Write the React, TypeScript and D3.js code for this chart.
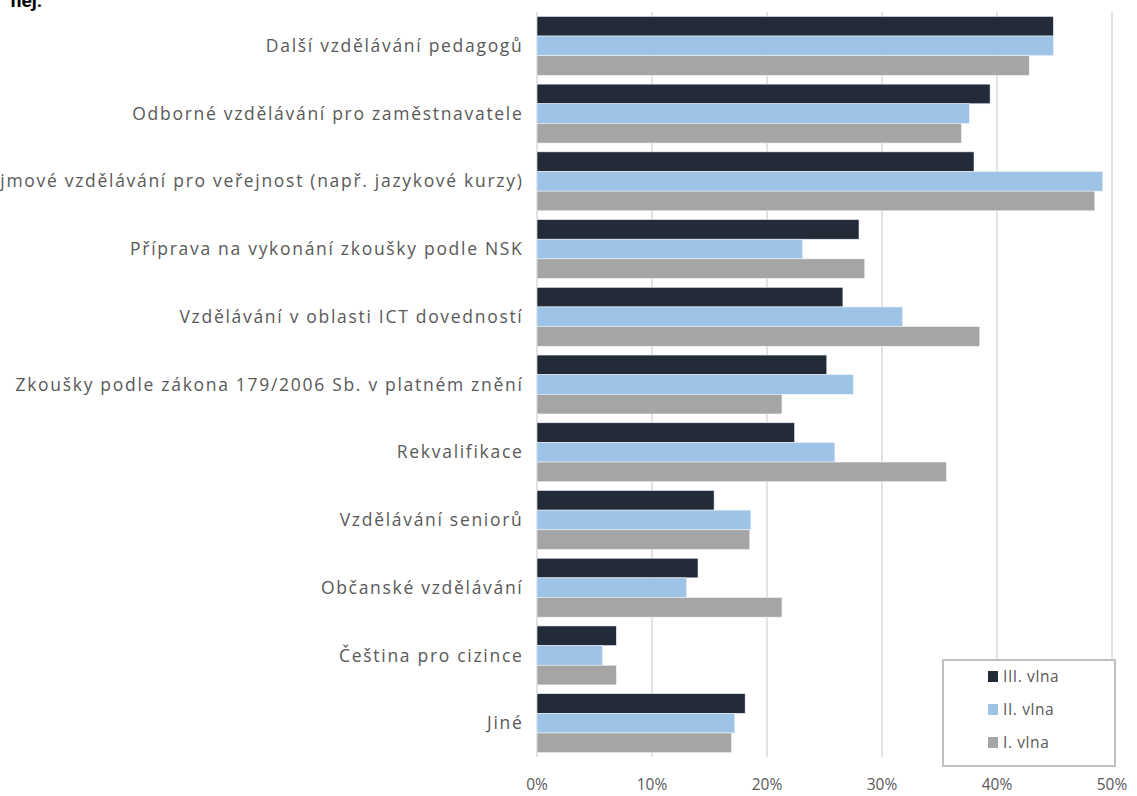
import React from "react";
import * as d3 from "d3";

const categories = [
  "Další vzdělávání pedagogů",
  "Odborné vzdělávání pro zaměstnavatele",
  "Zájmové vzdělávání pro veřejnost (např. jazykové kurzy)",
  "Příprava na vykonání zkoušky podle NSK",
  "Vzdělávání v oblasti ICT dovedností",
  "Zkoušky podle zákona 179/2006 Sb. v platném znění",
  "Rekvalifikace",
  "Vzdělávání seniorů",
  "Občanské vzdělávání",
  "Čeština pro cizince",
  "Jiné",
];

const seriesNames = ["III. vlna", "II. vlna", "I. vlna"];
const wave3 = [44.9, 39.4, 38.0, 28.0, 26.6, 25.2, 22.4, 15.4, 14.0, 6.9, 18.1];
const wave2 = [44.9, 37.6, 49.2, 23.1, 31.8, 27.5, 25.9, 18.6, 13.0, 5.7, 17.2];
const wave1 = [42.8, 36.9, 48.5, 28.5, 38.5, 21.3, 35.6, 18.5, 21.3, 6.9, 16.9];
const seriesValues = [wave3, wave2, wave1];
const seriesColors = ["#232b38", "#9dc3e6", "#a5a5a5"];
const xTicks = [0, 10, 20, 30, 40, 50];

const W = 1137;
const H = 796;
const left = 537;
const right = 1112;
const top = 12;
const bottom = 757;

export default function App() {
  const x = d3.scaleLinear().domain([0, 50]).range([left, right]);
  const y = d3
    .scaleBand<string>()
    .domain(categories)
    .range([top, bottom])
    .paddingInner(0.13)
    .paddingOuter(0.065);
  const inner = d3
    .scaleBand<string>()
    .domain(seriesNames)
    .range([0, y.bandwidth()]);
  const font = "'Open Sans', 'DejaVu Sans', sans-serif";
  const textColor = "#595959";

  return (
    <svg
      width={W}
      height={H}
      style={{ position: "absolute", left: 0, top: 0, background: "#fff" }}
      fontFamily={font}
    >
      <text x={42} y={7} textAnchor="end" fontWeight="bold" fontSize={19} fill="#000" fontFamily="Roboto, sans-serif">
        nej:
      </text>
      {xTicks.map((t) => (
        <line key={"g" + t} x1={x(t)} x2={x(t)} y1={top} y2={bottom} stroke="#d9d9d9" strokeWidth={1.5} />
      ))}
      {categories.map((c, i) => (
        <g key={c}>
          {seriesNames.map((s, k) => (
            <rect
              key={s}
              x={x(0)}
              y={(y(c) as number) + (inner(s) as number)}
              width={x(seriesValues[k][i]) - x(0)}
              height={inner.bandwidth()}
              fill={seriesColors[k]}
              stroke="#eef2f7"
              strokeWidth={0.6}
            />
          ))}
          <text
            x={523.5}
            y={(y(c) as number) + y.bandwidth() / 2}
            dy="0.35em"
            textAnchor="end"
            fontSize={17.5}
            letterSpacing={1.7}
            fill={textColor}
          >
            {c}
          </text>
        </g>
      ))}
      {xTicks.map((t) => (
        <text key={"t" + t} x={x(t)} y={785} dy="0.35em" textAnchor="middle" fontSize={15.5} fill={textColor}>
          {t}%
        </text>
      ))}
      <rect x={943} y={660} width={172} height={106} fill="#fff" stroke="#bfbfbf" strokeWidth={2} />
      {seriesNames.map((s, k) => (
        <g key={"l" + s}>
          <rect x={988} y={671 + k * 33} width={10} height={11} fill={seriesColors[k]} />
          <text x={1003} y={676.5 + k * 33} dy="0.35em" fontSize={15.5} letterSpacing={0.6} fill={textColor}>
            {s}
          </text>
        </g>
      ))}
    </svg>
  );
}
